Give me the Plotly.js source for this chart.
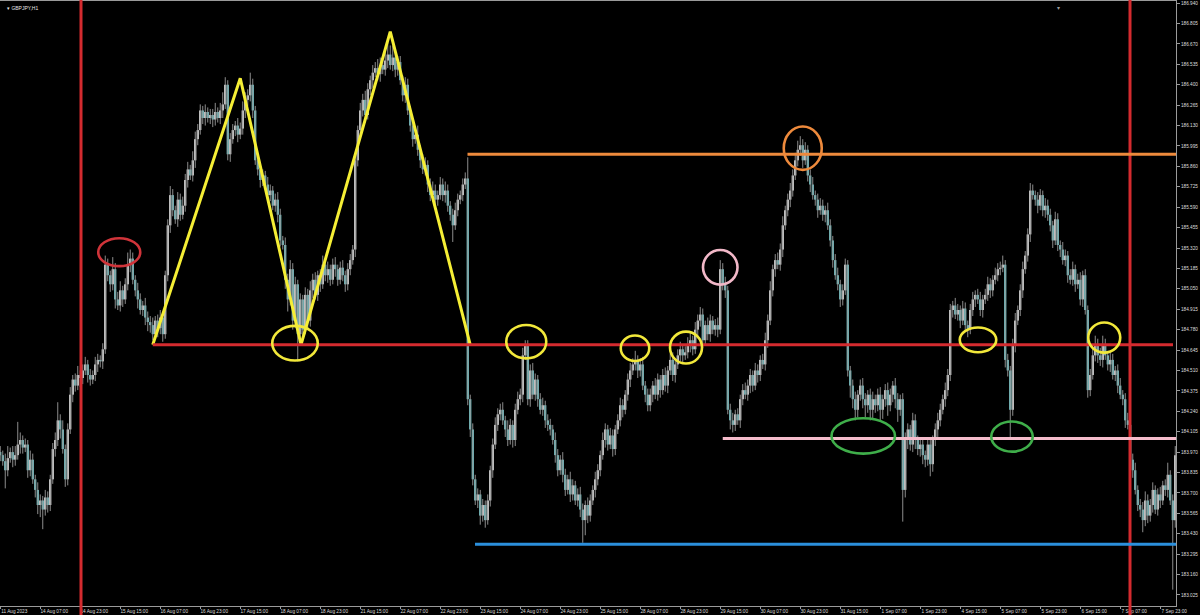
<!DOCTYPE html>
<html><head><meta charset="utf-8">
<script src="https://cdn.plot.ly/plotly-3.0.1.min.js"></script>
<style>html,body{margin:0;padding:0;background:#000;}#chart{width:1200px;height:615px;}</style>
</head><body><div id="chart"></div>
<script>
// GBPJPY H1 closes (one per hourly bar, 11 Aug 15:00 -> 8 Sep)
const firstOpen = 183.97;
const closes = [
183.95,183.91,183.85,183.93,183.97,183.92,183.95,184.02,184.05,184.00,184.02,183.85,183.92,183.79,183.72,183.62,183.65,183.59,183.67,183.62,
183.79,183.99,184.05,184.18,184.12,183.99,183.79,184.12,184.35,184.45,184.41,184.48,184.46,184.51,184.55,184.48,184.45,184.48,184.55,184.58,
184.57,184.65,185.21,185.14,185.08,185.18,184.98,184.94,185.04,184.98,185.08,185.21,185.25,185.11,185.04,184.98,184.91,184.94,184.86,184.83,
184.81,184.75,184.84,184.79,184.86,184.75,185.14,185.47,185.67,185.57,185.51,185.64,185.54,185.60,185.77,185.84,185.80,185.90,186.04,186.10,
186.23,186.18,186.22,186.18,186.20,186.17,186.22,186.18,186.23,186.27,186.40,185.94,186.04,186.10,186.13,186.07,186.11,186.23,186.30,186.33,
186.40,186.23,185.90,185.84,185.77,185.80,185.74,185.67,185.70,185.60,185.64,185.54,185.37,185.34,185.11,184.98,185.18,184.84,185.08,184.75,
184.98,184.78,185.01,184.84,185.04,185.11,185.01,185.14,185.08,185.21,185.14,185.18,185.11,185.21,185.18,185.11,185.19,185.14,185.08,185.18,
185.24,185.31,185.90,186.10,186.23,186.30,186.20,186.37,186.43,186.48,186.51,186.47,186.53,186.50,186.56,186.60,186.53,186.58,186.50,186.55,
186.43,186.33,186.40,186.23,186.13,186.04,186.07,185.97,185.90,185.84,185.87,185.74,185.67,185.70,185.64,185.67,185.74,185.67,185.70,185.60,
185.54,185.47,185.57,185.64,185.67,185.74,185.78,184.32,184.12,183.79,183.65,183.69,183.55,183.62,183.52,183.65,183.85,184.02,184.15,184.22,
184.25,184.18,184.12,184.05,184.15,184.05,184.25,184.32,184.35,184.61,184.68,184.32,184.51,184.35,184.45,184.32,184.25,184.28,184.18,184.15,
184.12,184.05,183.95,183.85,183.92,183.82,183.72,183.79,183.69,183.75,183.65,183.69,183.59,183.52,183.62,183.55,183.65,183.72,183.79,183.85,
183.95,184.05,184.12,184.02,184.08,183.99,184.12,184.18,184.28,184.25,184.35,184.45,184.51,184.55,184.58,184.51,184.55,184.41,184.35,184.28,
184.35,184.41,184.35,184.45,184.38,184.48,184.41,184.51,184.58,184.48,184.55,184.61,184.65,184.61,184.63,184.68,184.71,184.65,184.78,184.84,
184.88,184.71,184.81,184.75,184.84,184.78,184.81,184.78,185.18,185.08,185.04,184.25,184.18,184.15,184.22,184.18,184.32,184.38,184.35,184.41,
184.48,184.41,184.51,184.48,184.58,184.55,184.71,184.84,185.04,185.18,185.24,185.21,185.31,185.47,185.57,185.64,185.70,185.80,185.90,185.97,
186.00,185.90,185.97,185.80,185.74,185.67,185.64,185.57,185.60,185.54,185.57,185.47,185.37,185.24,185.14,185.08,184.98,185.04,185.21,184.51,
184.41,184.32,184.25,184.35,184.41,184.32,184.28,184.35,184.25,184.32,184.28,184.35,184.25,184.32,184.38,184.28,184.35,184.41,184.32,184.25,
184.32,183.72,184.05,184.12,184.02,184.18,184.05,183.99,184.02,183.95,183.92,184.02,183.89,184.05,184.12,184.18,184.25,184.32,184.38,184.48,
184.91,184.94,184.88,184.91,184.84,184.92,184.81,184.78,184.91,184.98,185.01,184.98,184.91,184.98,185.01,185.08,185.04,185.11,185.14,185.18,
185.19,185.21,184.58,184.51,184.25,184.68,184.84,184.91,185.04,185.18,185.27,185.41,185.70,185.67,185.64,185.60,185.67,185.57,185.60,185.54,
185.47,185.37,185.51,185.34,185.31,185.24,185.27,185.14,185.11,185.18,185.08,185.11,184.98,185.14,184.91,184.38,184.48,184.61,184.68,184.61,
184.58,184.68,184.61,184.55,184.58,184.48,184.51,184.41,184.35,184.32,184.18,184.15,183.92,183.85,183.72,183.62,183.59,183.52,183.65,183.55,
183.62,183.72,183.59,183.69,183.65,183.75,183.72,183.82,183.65,183.52,183.95
];
// upper / lower wick length of each bar, in pips (0.01)
const wickUp = [
4,3,5,8,3,4,6,15,5,3,4,3,6,4,3,5,4,3,5,4,
3,4,5,12,4,6,3,4,5,3,4,6,3,4,5,3,4,3,5,4,
3,4,6,4,3,8,4,5,6,3,4,8,6,4,3,5,4,3,5,4,
4,5,3,4,5,3,3,4,6,4,3,5,4,6,4,5,3,6,5,4,
4,3,5,3,4,4,6,3,5,8,5,3,4,4,3,5,4,6,5,4,
8,4,3,4,5,4,3,5,4,3,4,5,4,3,5,4,6,4,5,3,
4,3,5,4,6,4,5,3,4,6,4,5,3,4,5,3,4,5,3,4,
4,3,4,3,5,4,6,4,3,5,4,6,5,4,8,10,6,8,5,4,
4,3,5,4,3,5,4,6,3,4,5,3,4,6,4,3,5,4,6,4,
3,4,5,4,3,4,4,14,3,4,3,4,3,4,3,4,3,4,5,4,
4,5,3,6,4,3,4,5,4,5,3,3,4,5,4,3,4,5,3,4,
4,3,5,4,3,5,4,3,5,4,3,4,5,4,3,5,4,3,5,4,
3,5,4,3,5,4,3,4,5,4,3,4,5,4,6,3,4,5,3,4,
4,3,5,4,3,4,5,3,4,5,3,4,5,3,4,5,6,3,5,4,
5,4,3,5,4,3,4,5,6,4,5,3,4,5,3,4,3,4,5,4,
4,3,5,4,3,4,5,4,6,3,4,5,4,6,3,4,5,4,5,6,
6,4,5,3,4,5,3,4,5,4,3,5,4,3,4,5,3,4,4,3,
3,4,5,3,4,5,4,3,4,5,3,4,5,3,4,5,4,3,5,4,
3,4,5,4,3,5,4,3,4,5,3,4,5,3,4,5,4,3,5,4,
4,3,5,4,3,5,4,3,4,5,3,4,5,3,4,5,4,3,5,4,
4,6,3,4,3,4,5,3,4,5,3,4,5,4,3,5,4,3,5,4,
4,3,5,4,3,5,4,3,4,5,3,4,5,3,4,3,4,5,6,4,
5,6,4,3,5,4,3,4,5,3,4,5,3,4,5,3,4,5,6,4,
4,5,3,4,5,3,4,8,3,4,6
];
const wickDn = [
4,3,12,4,3,5,4,3,6,4,3,5,4,3,5,6,8,13,4,5,
4,3,5,4,6,3,5,4,3,5,4,3,6,4,3,5,4,3,4,5,
4,5,3,4,5,4,6,3,4,5,3,4,5,3,4,6,3,4,5,6,
5,4,3,6,4,5,3,4,5,4,3,5,4,3,4,5,3,4,5,4,
3,4,5,3,4,5,4,3,4,5,3,4,5,3,4,5,3,4,5,4,
4,5,3,4,5,4,3,5,4,3,4,5,4,3,6,8,4,6,5,18,
5,4,3,6,4,5,3,4,5,3,4,5,4,3,5,4,3,4,5,4,
4,3,5,4,3,4,5,3,4,5,3,4,5,3,4,5,3,4,5,4,
3,4,5,3,4,5,3,4,5,3,4,5,4,3,5,4,3,4,5,4,
4,11,3,4,3,4,3,4,5,4,3,5,6,4,5,3,4,5,3,4,
4,3,5,4,3,5,4,3,4,5,3,4,5,3,4,5,3,4,5,4,
4,3,5,4,3,5,4,3,5,4,3,4,5,15,10,5,4,3,5,4,
4,3,5,4,3,5,4,3,4,5,3,4,5,3,4,5,4,3,5,4,
4,5,3,4,5,3,4,5,3,4,5,3,4,5,3,4,5,4,3,4,
4,5,3,4,5,3,4,5,3,4,5,3,6,5,4,3,5,4,3,4,
5,4,3,5,4,3,4,5,3,4,5,3,4,5,3,4,5,4,3,4,
4,5,3,4,5,3,4,5,3,4,5,3,4,5,3,4,5,4,3,4,
8,6,7,5,4,6,8,5,7,6,5,4,8,6,5,7,4,5,6,8,
4,21,5,6,4,5,6,4,5,6,5,4,8,5,4,5,4,3,5,4,
4,5,3,4,5,3,4,5,3,4,5,3,4,5,3,4,5,4,3,4,
4,3,5,4,18,4,5,3,4,5,3,4,5,3,4,5,3,4,5,4,
4,5,3,4,5,3,4,5,3,4,5,3,4,5,3,5,4,3,4,5,
4,5,3,4,5,3,4,5,3,4,5,3,4,5,3,4,5,8,4,5,
4,5,3,4,5,3,4,5,3,46,5
];
// time axis labels, one every 16 bars
const xTickLabels = ['11 Aug 2023','14 Aug 07:00','14 Aug 23:00','15 Aug 15:00','16 Aug 07:00','16 Aug 23:00',
'17 Aug 15:00','18 Aug 07:00','18 Aug 23:00','21 Aug 15:00','22 Aug 07:00','22 Aug 23:00','23 Aug 15:00',
'24 Aug 07:00','24 Aug 23:00','25 Aug 15:00','28 Aug 07:00','28 Aug 23:00','29 Aug 15:00','30 Aug 07:00',
'30 Aug 23:00','31 Aug 15:00','1 Sep 07:00','1 Sep 23:00','4 Sep 15:00','5 Sep 07:00','5 Sep 23:00',
'6 Sep 15:00','7 Sep 07:00','7 Sep 23:00'];
const xTickBars = xTickLabels.map((_, k) => k * 16);

// drawn levels (price) and where they start (bar index)
const levelRed = 184.68, levelOrange = 185.94, levelPink = 184.06, levelBlue = 183.36;
const vLineBars = [32.3, 451.9];
// zigzag (bar index, price)
const zigBars = [61.0, 96.0, 120.3, 156.0, 188.0];
const zigPrices = [184.68, 186.443, 184.68, 186.751, 184.68];
// ellipses: [bar0, bar1, priceLow, priceHigh, colour]
const marks = [
 [39.2, 56.0, 185.20, 185.385, '#d0343a'],
 [108.8, 127.0, 184.576, 184.805, '#f2e83a'],
 [202.4, 218.4, 184.590, 184.811, '#f2e83a'],
 [248.2, 259.6, 184.573, 184.741, '#f2e83a'],
 [267.9, 280.7, 184.556, 184.767, '#f2e83a'],
 [281.1, 294.9, 185.078, 185.307, '#f2b8c8'],
 [313.4, 328.6, 185.837, 186.124, '#ee8a3c'],
 [332.5, 357.9, 183.960, 184.194, '#3fae4a'],
 [396.4, 413.0, 183.973, 184.172, '#3fae4a'],
 [383.8, 398.4, 184.631, 184.794, '#f2e83a'],
 [435.2, 448.0, 184.628, 184.827, '#f2e83a']
];

const n = closes.length;
const bullX = [], bullB = [], bullH = [], bearX = [], bearB = [], bearH = [];
const wx = [], wy = [];
for (let i = 0; i < n; i++) {
  const o = i === 0 ? firstOpen : closes[i - 1];
  const c = closes[i];
  const hi = Math.max(o, c) + wickUp[i] / 100;
  const lo = Math.min(o, c) - wickDn[i] / 100;
  wx.push(i, i, null); wy.push(lo, hi, null);
  if (c >= o) { bullX.push(i); bullB.push(o); bullH.push(Math.max(c - o, 0.004)); }
  else { bearX.push(i); bearB.push(c); bearH.push(o - c); }
}

const lineW = 3;
const shapes = [];
vLineBars.forEach(b => shapes.push({type:'line', xref:'x', yref:'paper', x0:b, x1:b, y0:-0.05, y1:1.05,
  line:{color:'#d42b2f', width:lineW}}));
shapes.push({type:'line', xref:'x', yref:'y', x0:61.0, x1:469.1, y0:levelRed, y1:levelRed, line:{color:'#d42b2f', width:lineW}});
shapes.push({type:'line', xref:'x', yref:'y', x0:186.9, x1:475, y0:levelOrange, y1:levelOrange, line:{color:'#ee8a3c', width:lineW}});
shapes.push({type:'line', xref:'x', yref:'y', x0:289.0, x1:475, y0:levelPink, y1:levelPink, line:{color:'#f5bccb', width:lineW}});
shapes.push({type:'line', xref:'x', yref:'y', x0:189.9, x1:475, y0:levelBlue, y1:levelBlue, line:{color:'#2b8fdc', width:lineW}});
marks.forEach(m => shapes.push({type:'circle', xref:'x', yref:'y', x0:m[0], x1:m[1], y0:m[2], y1:m[3],
  line:{color:m[4], width:2.6}, fillcolor:'rgba(0,0,0,0)'}));

const data = [
  {type:'scatter', mode:'lines', x:wx, y:wy, line:{color:'#8c8c8c', width:1}, hoverinfo:'skip', showlegend:false},
  {type:'bar', x:bullX, y:bullH, base:bullB, width:0.85, marker:{color:'#ffffff', line:{width:0}}, hoverinfo:'skip', showlegend:false},
  {type:'bar', x:bearX, y:bearH, base:bearB, width:0.85, marker:{color:'#7fe0e4', line:{width:0}}, hoverinfo:'skip', showlegend:false},
  {type:'scatter', mode:'lines', x:zigBars, y:zigPrices, line:{color:'#f5ee35', width:lineW}, hoverinfo:'skip', showlegend:false}
];

const tf = {family:'Liberation Sans, Arial, sans-serif', size:4.7, color:'#dedede'};
const layout = {
  width:1200, height:615,
  paper_bgcolor:'#000', plot_bgcolor:'#000',
  margin:{l:0, r:24, t:1, b:9},
  barmode:'overlay', showlegend:false,
  xaxis:{range:[-0.1, 470.3], tickmode:'array', tickvals:xTickBars, ticktext:xTickLabels,
    ticks:'outside', ticklen:2, tickcolor:'#9a9a9a', showline:true, linecolor:'#9a9a9a', linewidth:1, mirror:true,
    showgrid:false, zeroline:false, tickfont:tf, ticklabelshift:14, ticklabelstandoff:-2, tickangle:0},
  yaxis:{side:'right', range:[182.952, 186.954], tick0:183.025, dtick:0.135, tickformat:'.3f',
    ticks:'outside', ticklen:3, tickcolor:'#9a9a9a', showline:true, linecolor:'#9a9a9a', linewidth:1,
    showgrid:false, zeroline:false, tickfont:tf},
  shapes:shapes,
  annotations:[
    {xref:'paper', yref:'paper', x:0.004, y:0.997, xanchor:'left', yanchor:'top', showarrow:false,
     text:'▾ GBPJPY,H1', font:{family:'Liberation Sans, Arial, sans-serif', size:5, color:'#e6e6e6'}},
    {xref:'paper', yref:'paper', x:0.9, y:0.999, xanchor:'center', yanchor:'top', showarrow:false,
     text:'▾', font:{family:'DejaVu Sans', size:6, color:'#9a9a9a'}}
  ]
};
Plotly.newPlot('chart', data, layout, {staticPlot:true, displayModeBar:false});
</script></body></html>
